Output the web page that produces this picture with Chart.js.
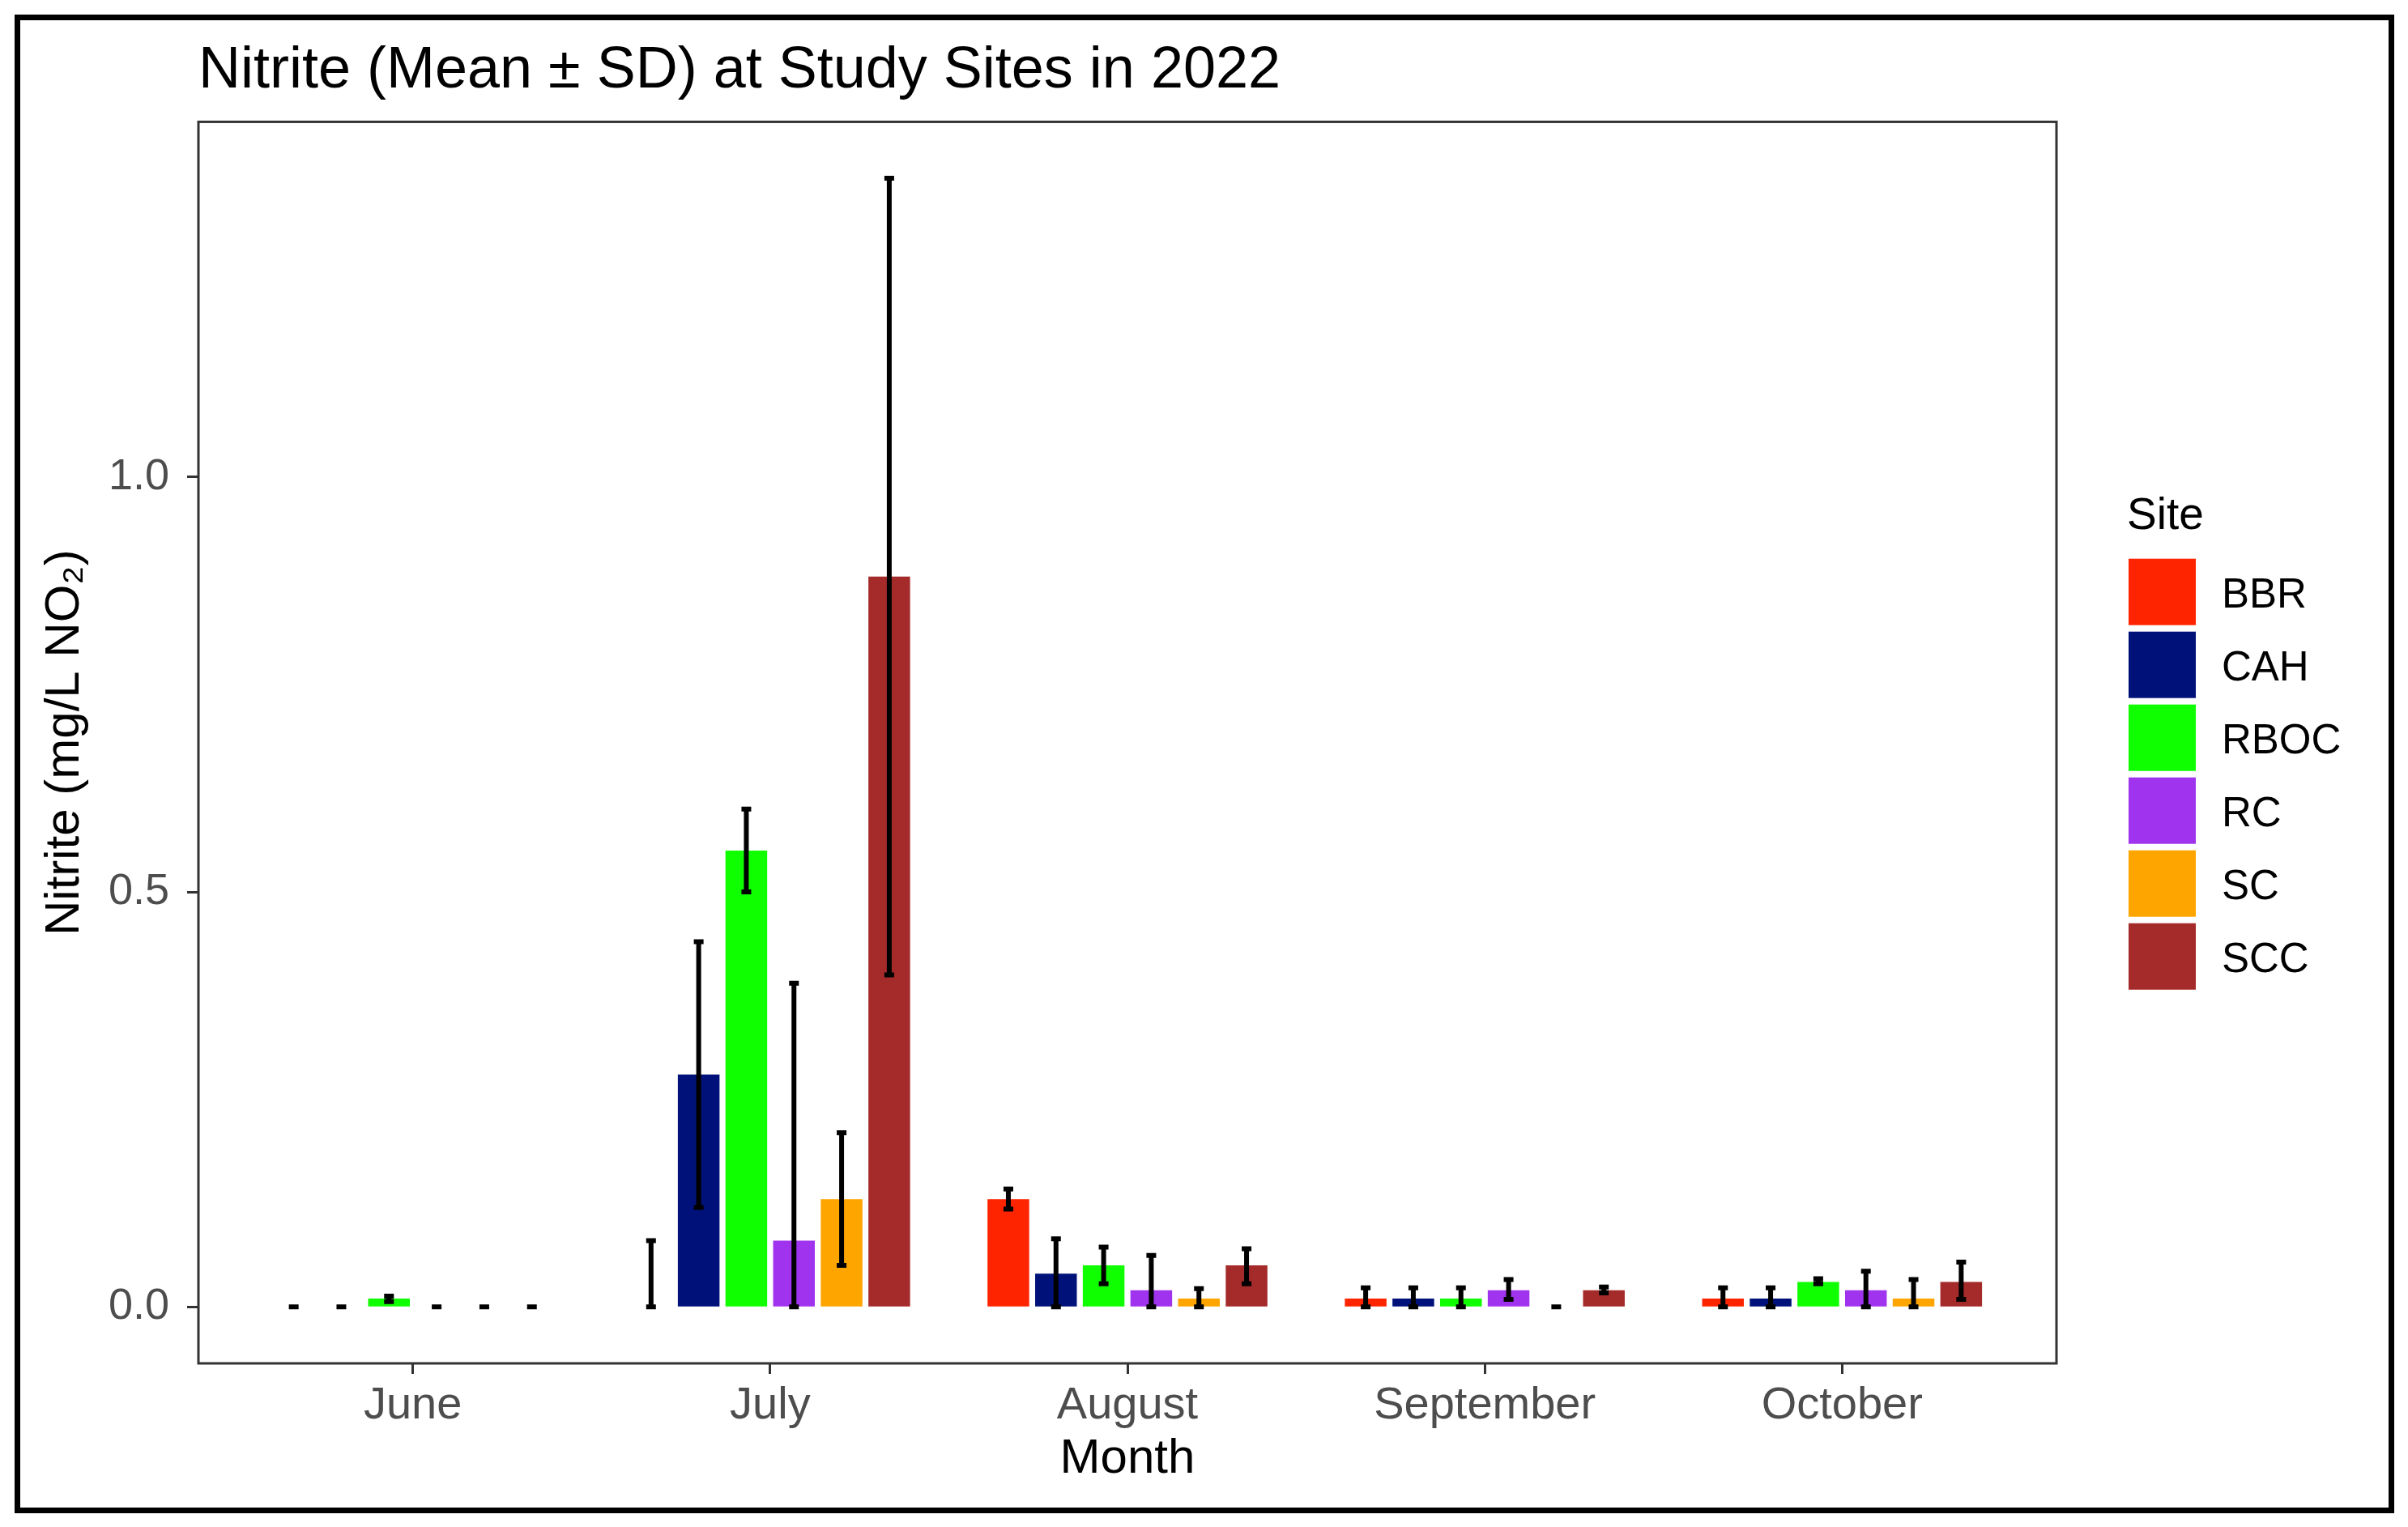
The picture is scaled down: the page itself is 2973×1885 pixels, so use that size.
<!DOCTYPE html>
<html><head><meta charset="utf-8">
<script src="https://cdn.jsdelivr.net/npm/chart.js@4.4.0/dist/chart.umd.min.js"></script>
<style>
html,body{margin:0;padding:0;background:#fff;}
#wrap{position:relative;width:2973px;height:1885px;background:#fff;}
#frame{position:absolute;left:18px;top:18px;width:2938px;height:1850px;border:7px solid #000;box-sizing:border-box;pointer-events:none;}
canvas{position:absolute;left:0;top:0;}
</style></head>
<body><div id="wrap"><canvas id="c" width="2973" height="1885"></canvas><div id="frame"></div></div>
<script>
// ---- data ----
const months = ['June', 'July', 'August', 'September', 'October'];
const sites = ['BBR', 'CAH', 'RBOC', 'RC', 'SC', 'SCC'];
const siteColors = ['#FF2400', '#00127A', '#10FF00', '#A033EE', '#FFA500', '#A52A2A'];

const meanBBR  = [0,    0,    0.13,  0.01,  0.01];
const meanCAH  = [0,    0.28, 0.04,  0.01,  0.01];
const meanRBOC = [0.01, 0.55, 0.05,  0.01,  0.03];
const meanRC   = [0,    0.08, 0.02,  0.02,  0.02];
const meanSC   = [0,    0.13, 0.01,  0,     0.01];
const meanSCC  = [0,    0.88, 0.05,  0.02,  0.03];

const lowBBR   = [0,     0,    0.118, 0,     0];
const highBBR  = [0,     0.08, 0.142, 0.023, 0.023];
const lowCAH   = [0,     0.12, 0,     0,     0];
const highCAH  = [0,     0.44, 0.082, 0.023, 0.023];
const lowRBOC  = [0.0065,0.50, 0.028, 0,     0.028];
const highRBOC = [0.013, 0.60, 0.072, 0.023, 0.034];
const lowRC    = [0,     0,    0,     0.009, 0];
const highRC   = [0,     0.39, 0.062, 0.033, 0.043];
const lowSC    = [0,     0.05, 0,     0,     0];
const highSC   = [0,     0.21, 0.022, 0,     0.033];
const lowSCC   = [0,     0.40, 0.028, 0.017, 0.009];
const highSCC  = [0,     1.36, 0.07,  0.024, 0.054];

const yTicks = [0, 0.5, 1.0];
const titleText = 'Nitrite (Mean \u00B1 SD) at Study Sites in 2022';
const xTitle = 'Month';
const yTitle = 'Nitrite (mg/L NO\u2082)';
const legendTitle = 'Site';

// ---- build ----
const means = [meanBBR, meanCAH, meanRBOC, meanRC, meanSC, meanSCC];
const lows  = [lowBBR, lowCAH, lowRBOC, lowRC, lowSC, lowSCC];
const highs = [highBBR, highCAH, highRBOC, highRC, highSC, highSCC];

const FONT = '"Liberation Sans", Arial, Helvetica, sans-serif';
const dataMax = Math.max(...highs.flat());
const yMin = 0 - dataMax * 0.05;
const yMax = dataMax * 1.05;

const datasets = sites.map((s, i) => ({
  label: s,
  data: means[i].map((v, j) => ({x: j + 1, y: v})),
  errLow: lows[i],
  errHigh: highs[i],
  backgroundColor: siteColors[i],
  borderWidth: 0,
  categoryPercentage: 0.8,
  barPercentage: 0.875
}));

const errorBars = {
  id: 'errorBars',
  afterDatasetsDraw(chart) {
    const ctx = chart.ctx, ys = chart.scales.y;
    ctx.save();
    ctx.strokeStyle = '#000';
    ctx.lineWidth = 6;
    ctx.lineCap = 'butt';
    chart.data.datasets.forEach((ds, i) => {
      const meta = chart.getDatasetMeta(i);
      meta.data.forEach((bar, j) => {
        const lo = ys.getPixelForValue(ds.errLow[j]);
        const hi = ys.getPixelForValue(ds.errHigh[j]);
        const x = bar.x, w = 6;
        ctx.beginPath();
        ctx.moveTo(x, lo + 3); ctx.lineTo(x, hi - 3);
        ctx.moveTo(x - w, lo); ctx.lineTo(x + w, lo);
        ctx.moveTo(x - w, hi); ctx.lineTo(x + w, hi);
        ctx.stroke();
      });
    });
    // panel border
    const a = chart.chartArea;
    ctx.strokeStyle = '#333333';
    ctx.lineWidth = 3;
    ctx.strokeRect(a.left, a.top, a.right - a.left, a.bottom - a.top);
    ctx.restore();
  }
};

const sideLegend = {
  id: 'sideLegend',
  afterDraw(chart) {
    const ctx = chart.ctx, a = chart.chartArea;
    const cy = (a.top + a.bottom) / 2;
    const x0 = a.right + 89;
    ctx.save();
    ctx.textBaseline = 'middle';
    ctx.textAlign = 'left';
    ctx.fillStyle = '#000';
    ctx.font = '55px ' + FONT;
    ctx.fillText(legendTitle, x0 - 2, cy - 279);
    chart.data.datasets.forEach((ds, i) => {
      const top = cy - 227 + i * 90;
      ctx.fillStyle = ds.backgroundColor;
      ctx.fillRect(x0, top, 83, 82);
      ctx.fillStyle = '#000';
      ctx.font = '51px ' + FONT;
      ctx.fillText(ds.label, x0 + 115, top + 46);
    });
    ctx.restore();
  }
};

new Chart(document.getElementById('c'), {
  type: 'bar',
  data: { datasets },
  plugins: [errorBars, sideLegend],
  options: {
    responsive: false,
    devicePixelRatio: 1,
    animation: false,
    layout: { padding: { left: 30, top: 20, right: 434, bottom: 40 } },
    plugins: {
      legend: { display: false },
      tooltip: { enabled: false },
      title: {
        display: true,
        text: titleText,
        align: 'start',
        fullSize: false,
        color: '#000',
        font: { family: FONT, size: 72, weight: 'normal', lineHeight: 1.2 },
        padding: { top: 25, bottom: 19 }
      }
    },
    scales: {
      x: {
        type: 'linear',
        min: 0.4,
        max: 5.6,
        offset: false,
        afterBuildTicks(scale) { scale.ticks = months.map((m, i) => ({ value: i + 1 })); },
        afterFit(scale) { scale.height = 162; },
        ticks: {
          autoSkip: false, maxRotation: 0, minRotation: 0, padding: 6,
          color: '#4D4D4D',
          font: { family: FONT, size: 56, lineHeight: 1.2 },
          callback: (v) => months[Math.round(v) - 1] || ''
        },
        grid: { display: true, offset: false, drawOnChartArea: false, drawTicks: true, tickLength: 13, tickColor: '#333333', tickWidth: 3, color: '#333333' },
        border: { display: false },
        title: { display: true, text: xTitle, color: '#000', font: { family: FONT, size: 60, lineHeight: 1.2 }, padding: { top: 0, bottom: 8 } }
      },
      y: {
        type: 'linear',
        min: yMin,
        max: yMax,
        afterBuildTicks(scale) { scale.ticks = yTicks.map(v => ({ value: v })); },
        afterFit(scale) { scale.width = 215; },
        ticks: {
          padding: 22,
          color: '#4D4D4D',
          font: { family: FONT, size: 54, lineHeight: 1.2 },
          callback: (v) => Number(v).toFixed(1)
        },
        grid: { display: true, drawOnChartArea: false, drawTicks: true, tickLength: 14, tickColor: '#333333', tickWidth: 3, color: '#333333' },
        border: { display: false },
        title: { display: true, text: yTitle, color: '#000', font: { family: FONT, size: 60, lineHeight: 1.2 }, padding: { top: 14, bottom: 0 } }
      }
    }
  }
});
</script>
</body></html>
